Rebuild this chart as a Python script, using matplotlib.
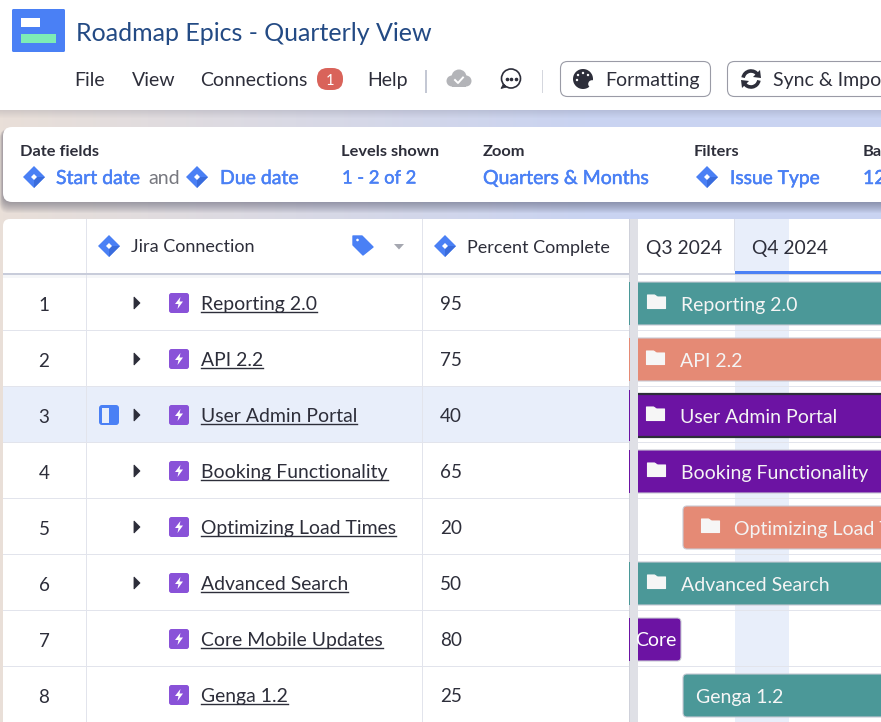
import numpy as np
import matplotlib
matplotlib.use("Agg")
import matplotlib.pyplot as plt
import matplotlib.patheffects as pe
from matplotlib.patches import Rectangle, FancyBboxPatch, Polygon, Circle, Arc, Wedge

plt.rcParams['font.family'] = ['Lato', 'DejaVu Sans']

# Data -------------------------------------------------------------------

row_numbers = [1, 2, 3, 4, 5, 6, 7, 8]
issue_names = ["Reporting 2.0", "API 2.2", "User Admin Portal", "Booking Functionality",
               "Optimizing Load Times", "Advanced Search", "Core Mobile Updates", "Genga 1.2"]
percent_complete = [95, 75, 40, 65, 20, 50, 80, 25]
has_children = [True, True, True, True, True, True, False, False]

bar_labels = ["Reporting 2.0", "API 2.2", "User Admin Portal", "Booking Functionality",
              "Optimizing Load Times", "Advanced Search", "Core Mobile Updates", "Genga 1.2"]
bar_start = [-60, -60, -60, -60, 45, -60, -120, 45]   # timeline px, 0 = left edge of gantt
bar_end = [400, 400, 400, 400, 400, 400, 43, 400]
bar_colors = ["#4b9898", "#e58a75", "#6c13a3", "#6c13a3", "#e58a75", "#4b9898", "#6c13a3", "#4b9898"]

menu_items = ["File", "View", "Connections", "Help"]
menu_x = [74.5, 131.5, 200, 367.5]
quarter_labels = ["Q3 2024", "Q4 2024"]
quarter_x = [646, 752.5]

#-------------------------------------------------------------------------

DARK = "#2d2e3a"
BLUE = "#4a80f5"
LINE = "#e2e4ec"
GANTT_X = 638

fig = plt.figure(figsize=(8.81, 7.22), dpi=100)
ax = fig.add_axes([0, 0, 1, 1])
ax.set_xlim(0, 881)
ax.set_ylim(722, 0)
ax.axis("off")


def rect(x, y, w, h, color, z=1, alpha=1.0):
    ax.add_patch(Rectangle((x, y), w, h, fc=color, ec="none", zorder=z, alpha=alpha))


def rbox(x, y, w, h, r, fc, ec="none", lw=1.0, z=2):
    p = FancyBboxPatch((x + r, y + r), w - 2 * r, h - 2 * r, boxstyle=f"round,pad={r}",
                       fc=fc, ec=ec, lw=lw, zorder=z)
    ax.add_patch(p)
    return p


def txt(x, y, s, size=13.6, color=DARK, weight="normal", ha="left", z=5):
    return ax.text(x, y, s, fontsize=size, color=color, fontweight=weight, ha=ha, va="center_baseline", zorder=z)


def blue_txt(x, y, s, size=14):
    # reference uses a medium weight, thicken the regular face a little
    t = txt(x, y, s, size=size, color=BLUE)
    t.set_path_effects([pe.withStroke(linewidth=0.35, foreground=BLUE)])
    return t


def jira_diamond(cx, cy, r=11):
    ax.add_patch(Polygon([(cx - r, cy), (cx, cy - r), (cx + r, cy), (cx, cy + r)], fc=BLUE, ec="none", zorder=6))
    ax.add_patch(Polygon([(cx, cy), (cx + r, cy), (cx, cy + r)], fc="#3a6cdc", ec="none", zorder=6))
    ax.add_patch(Polygon([(cx - 3, cy), (cx, cy - 3), (cx + 3, cy), (cx, cy + 3)], fc="white", ec="none", zorder=7))


def epic_icon(cx, cy):
    rbox(cx - 10, cy - 10, 20, 20, 2.5, "#8952d8", z=6)
    ax.add_patch(Polygon([(cx + 1.5, cy - 6), (cx - 4, cy + 1), (cx - 0.5, cy + 1), (cx - 1.5, cy + 6),
                          (cx + 4, cy - 1.5), (cx + 0.5, cy - 1.5)], fc="white", ec="none", zorder=7))


def folder_icon(cx, cy):
    ax.add_patch(Polygon([(cx - 9, cy - 7), (cx - 2, cy - 7), (cx + 1, cy - 5), (cx + 9, cy - 5), (cx + 9, cy + 6.5),
                          (cx - 9, cy + 6.5)], closed=True, fc="#f6f6f6", ec="#f6f6f6", lw=0.8, joinstyle="round", zorder=7))


# Background gradient behind panels
grad = np.zeros((2, 256, 3))
left_col = np.array([0xe9, 0xdf, 0xd8]) / 255
right_col = np.array([0xc9, 0xd3, 0xf1]) / 255
for i in range(256):
    grad[:, i] = left_col + (right_col - left_col) * min(i / 170, 1)
ax.imshow(grad, extent=(0, 881, 722, 110), aspect="auto", zorder=0)
ax.set_xlim(0, 881)
ax.set_ylim(722, 0)

# Top bar -----------------------------------------------------------------

for k in range(8):
    rect(0, 110 + k, 881, 1, "#55566a", z=1, alpha=0.16 * (1 - k / 8))
rect(0, 0, 881, 110, "white", z=1)

rbox(12, 9, 53, 43, 1.5, BLUE, z=2)
rect(21, 18, 19, 9, "white", z=3)
rect(21, 34, 35, 9, "#7decb5", z=3)
txt(76, 31.5, "Roadmap Epics - Quarterly View", size=18, color="#234a84")

for name, x in zip(menu_items, menu_x):
    txt(x, 79, name, size=14)
rbox(317, 68, 26, 22, 10.5, "#d9635a", z=3)
txt(330, 79.5, "1", size=10.5, color="white", ha="center")
rect(425, 70, 1.5, 23, "#c4c8d4", z=2)
rect(542, 70, 1, 23, "#d5d7de", z=2)

# cloud icon
for cx, cy, r in [(452, 81, 5.5), (459, 77, 7.5), (466, 81, 5.5)]:
    ax.add_patch(Circle((cx, cy), r, fc="#b3b4b8", ec="none", zorder=3))
rect(452, 80, 14, 6.5, "#b3b4b8", z=3)
ax.plot([455, 458, 463], [80, 83, 77.5], color="white", lw=1.4, zorder=4)

# comment icon
ax.add_patch(Circle((511, 78.5), 9.5, fc="white", ec=DARK, lw=1.2, zorder=3))
ax.add_patch(Polygon([(503.5, 84), (506.5, 87), (501, 88.5)], fc=DARK, ec=DARK, lw=0.6, zorder=3))
ax.plot([506.5, 511, 515.5], [78.5, 78.5, 78.5], ls="none", marker="o", ms=1.6, color=DARK, zorder=4)

# buttons
rbox(560.5, 61.5, 150, 35, 7, "white", ec="#9a9ba6", lw=0.8, z=2)
rbox(727.5, 61.5, 190, 35, 7, "white", ec="#9a9ba6", lw=0.8, z=2)
txt(605.5, 79, "Formatting", size=14)
txt(773, 79, "Sync & Import", size=14)

# palette icon
ax.add_patch(Wedge((583, 79), 10, 0, 360, fc=DARK, ec="none", zorder=3))
ax.add_patch(Circle((592, 84), 3.8, fc="white", ec="none", zorder=4))
for px, py in [(578, 75), (583, 73), (588, 75), (577, 80)]:
    ax.add_patch(Circle((px, py), 1.2, fc="white", ec="none", zorder=4))

# sync icon
ax.add_patch(Arc((751, 79), 16, 16, theta1=190, theta2=330, color=DARK, lw=2.6, zorder=3))
ax.add_patch(Arc((751, 79), 16, 16, theta1=10, theta2=150, color=DARK, lw=2.6, zorder=3))
ax.add_patch(Polygon([(760, 70), (761, 78), (753, 77)], fc=DARK, ec="none", zorder=3))
ax.add_patch(Polygon([(742, 88), (741, 80), (749, 81)], fc=DARK, ec="none", zorder=3))

# Options panel -----------------------------------------------------------

for k in range(12):
    shadow = rbox(3 - k * 0.3, 127 + 2, 890, 73 + k, 9, "#3c3d55", z=1.5)
    shadow.set_alpha(0.045)
rbox(3, 127, 900, 75, 9, "white", z=2)

txt(20, 151, "Date fields", size=11.8, weight="bold")
txt(341, 151, "Levels shown", size=11.8, weight="bold")
txt(483, 151, "Zoom", size=11.8, weight="bold")
txt(694, 151, "Filters", size=11.8, weight="bold")
txt(863, 151, "Based", size=11.8, weight="bold")

jira_diamond(34, 177)
blue_txt(56, 177, "Start date")
txt(148, 177, "and", size=14, color="#77787f")
jira_diamond(197, 177)
blue_txt(220, 177, "Due date")
blue_txt(342, 177, "1 - 2 of 2", size=13.2)
blue_txt(483, 177, "Quarters & Months")
jira_diamond(707, 177)
blue_txt(730, 177, "Issue Type", size=13.8)
blue_txt(863, 177, "12")

# Table -------------------------------------------------------------------

rbox(3, 219, 900, 520, 7, "white", z=1)
rect(3, 387, 626, 55, "#e8eefa", z=1.2)
rect(735, 219, 54, 503, "#e8eefa", z=1.2)
rect(735, 271, 146, 2.5, BLUE, z=3)
rect(3, 273, 626, 2, "#c8ccda", z=3)
rect(3, 275, 626, 3, "#f5f6f8", z=1.5)
rect(638, 273, 243, 2, "#d0d3de", z=1.3)
rect(734, 219, 1, 52, "#dcdfe8", z=3)

for i in range(len(row_numbers)):
    y = 330 + 56 * i
    rect(3, y, 626, 1.3, LINE, z=2)
    rect(GANTT_X, y, 243, 1.3, LINE, z=1.3)
for x in [86, 422]:
    rect(x, 219, 1.3, 503, LINE, z=2)
rect(630, 219, 8, 503, "#dfe0e6", z=4)
rect(628.5, 219, 1.2, 503, "#cfd1da", z=4.1)

jira_diamond(109, 246)
txt(131, 246, "Jira Connection", size=13)
ax.add_patch(Polygon([(353, 236), (362, 236), (373, 247), (363, 255), (353, 245)], fc=BLUE, ec=BLUE, lw=1,
                     joinstyle="round", zorder=5))
ax.add_patch(Circle((357.5, 240), 1.3, fc="white", ec="none", zorder=6))
ax.add_patch(Polygon([(394, 244), (404, 244), (399, 249.5)], fc="#a5a7b0", ec="none", zorder=5))
jira_diamond(445, 246)
txt(467, 246, "Percent Complete", size=12.95)

for q, x in zip(quarter_labels, quarter_x):
    txt(x, 247, q, size=13.85)

fig.canvas.draw()
renderer = fig.canvas.get_renderer()

for i, (num, name, pct, kids) in enumerate(zip(row_numbers, issue_names, percent_complete, has_children)):
    cy = 303 + 56 * i
    txt(44, cy + 1, str(num), size=13.6, ha="center")
    epic_icon(179, cy)
    t = txt(200.8, cy, name, size=13.95)
    w = t.get_window_extent(renderer).width
    ax.plot([201, 201 + w], [cy + 8.8, cy + 8.8], color=DARK, lw=1.0, zorder=5)
    txt(440, cy, str(pct), size=13.6)
    if kids:
        ax.add_patch(Polygon([(134, cy - 6), (140, cy), (134, cy + 6)], fc=DARK, ec=DARK, lw=0.6, zorder=5))

# side panel icon, row 3
rbox(99, 405, 20, 20, 3, BLUE, z=5)
rect(102, 407.5, 7, 15, "#e8eefa", z=6)

# Gantt bars ---------------------------------------------------------------

gantt_clip = Rectangle((GANTT_X, 219), 243, 503, transform=ax.transData)

for i, (label, s, e, c) in enumerate(zip(bar_labels, bar_start, bar_end, bar_colors)):
    top = 282 + 56 * i
    h = 43
    x0 = GANTT_X + s
    x1 = GANTT_X + e
    edge = "#2d2e3a" if i == 2 else "#c8cad4"
    bar = rbox(x0, top, x1 - x0, h, 4, c, ec=edge, lw=1.6 if i == 2 else 0.8, z=3)
    bar.set_clip_path(gantt_clip)
    tx = max(x0, GANTT_X)
    if i == 6:
        # label scrolled past the left edge, only the tail is visible
        t = txt(677, top + 21.5, "Core", size=14, color="white", ha="right")
        t.set_clip_path(gantt_clip)
    elif i == 7:
        txt(x0 + 13, top + 22, label, size=14, color="#f6f6f6")
    else:
        shift = -1 if i in (1, 2) else 0
        folder_icon(tx + 18.5 + shift + (9 if s > 0 else 0), top + 20)
        tx_text = tx + 43 + shift if s < 0 else tx + 51
        txt(tx_text, top + 22, label, size=14, color="#f4f4f4")
    # sliver of the bar showing left of the splitter
    if s < 0:
        rect(628.5, top + (0 if i != 2 else -4), 1.2, h + (0 if i != 2 else 8), c, z=4.2)

ax.set_xlim(0, 881)
ax.set_ylim(722, 0)
fig.savefig("out.png", dpi=100)
